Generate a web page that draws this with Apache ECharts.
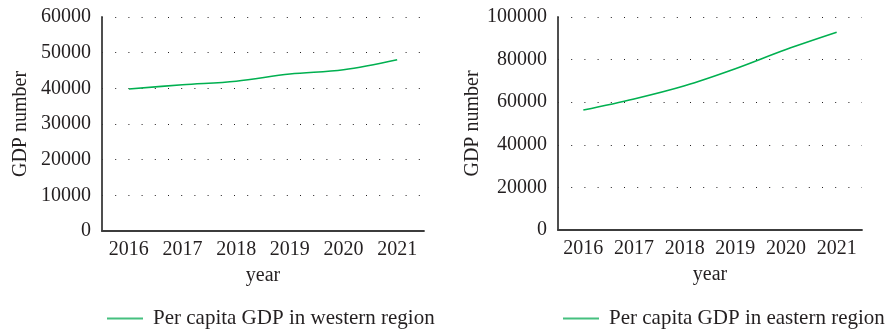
<!DOCTYPE html>
<html>
<head>
<meta charset="utf-8">
<script src="https://cdn.jsdelivr.net/npm/echarts@6/dist/echarts.min.js"></script>
<style>
  html, body { margin: 0; padding: 0; background: #fff; }
  #chart { width: 892px; height: 331px; }
</style>
</head>
<body>
<div id="chart"></div>
<script>
// Per capita GDP by year, western and eastern regions
const years = ['2016', '2017', '2018', '2019', '2020', '2021'];
const westGDP = [39800, 41000, 42000, 44000, 45200, 48000];
const eastGDP = [56300, 61500, 67700, 75700, 84700, 92800];
const westName = 'Per capita GDP in western region';
const eastName = 'Per capita GDP in eastern region';

const FONT = '"Liberation Serif", "DejaVu Serif", serif';
const INK = '#231f20';
const AXIS = '#3c3c3c';
const LINE = '#00b050';
const LEGEND_LINE = '#45c07f';

function xAxisFor(gridIndex) {
  return {
    type: 'category', gridIndex, data: years, boundaryGap: true,
    name: 'year', nameLocation: 'middle', nameGap: 35,
    nameTextStyle: { fontFamily: FONT, fontSize: 20, color: INK },
    axisLine: { lineStyle: { color: AXIS, width: 1.8 } },
    axisTick: { show: false },
    axisLabel: { fontFamily: FONT, fontSize: 20, color: INK, margin: 9, interval: 0 }
  };
}
function yAxisFor(gridIndex, max, interval) {
  return {
    type: 'value', gridIndex, min: 0, max, interval,
    name: 'GDP number', nameLocation: 'middle', nameGap: 71,
    nameTextStyle: { fontFamily: FONT, fontSize: 20, color: INK },
    axisLine: { show: true, lineStyle: { color: AXIS, width: 1.8 } },
    axisTick: { show: false },
    axisLabel: { fontFamily: FONT, fontSize: 20, color: INK, margin: 11, formatter: v => String(v) },
    splitLine: { show: true, lineStyle: { color: INK, width: 1, type: [1, 12.2] } }
  };
}
function legendFor(name, left) {
  return {
    left, top: 303, itemWidth: 36, itemHeight: 14,
    data: [{ name, icon: 'path://M0,6 L36,6 L36,8 L0,8 Z', itemStyle: { color: LEGEND_LINE } }],
    textStyle: { fontFamily: FONT, fontSize: 21, color: INK, padding: [0, 0, 0, 5] }
  };
}

const chart = echarts.init(document.getElementById('chart'), null, { renderer: 'canvas' });
chart.setOption({
  animation: false,
  backgroundColor: '#fff',
  grid: [
    { left: 102, top: 17, width: 322, height: 214 },
    { left: 558, top: 17, width: 304, height: 213 }
  ],
  xAxis: [xAxisFor(0), xAxisFor(1)],
  yAxis: [yAxisFor(0, 60000, 10000), yAxisFor(1, 100000, 20000)],
  legend: [legendFor(westName, 102), legendFor(eastName, 558)],
  series: [
    {
      name: westName, type: 'line', xAxisIndex: 0, yAxisIndex: 0,
      data: westGDP, smooth: 0.35, symbol: 'none',
      lineStyle: { color: LINE, width: 1.6 }, itemStyle: { color: LINE }
    },
    {
      name: eastName, type: 'line', xAxisIndex: 1, yAxisIndex: 1,
      data: eastGDP, smooth: 0.35, symbol: 'none',
      lineStyle: { color: LINE, width: 1.6 }, itemStyle: { color: LINE }
    }
  ]
});
</script>
</body>
</html>
